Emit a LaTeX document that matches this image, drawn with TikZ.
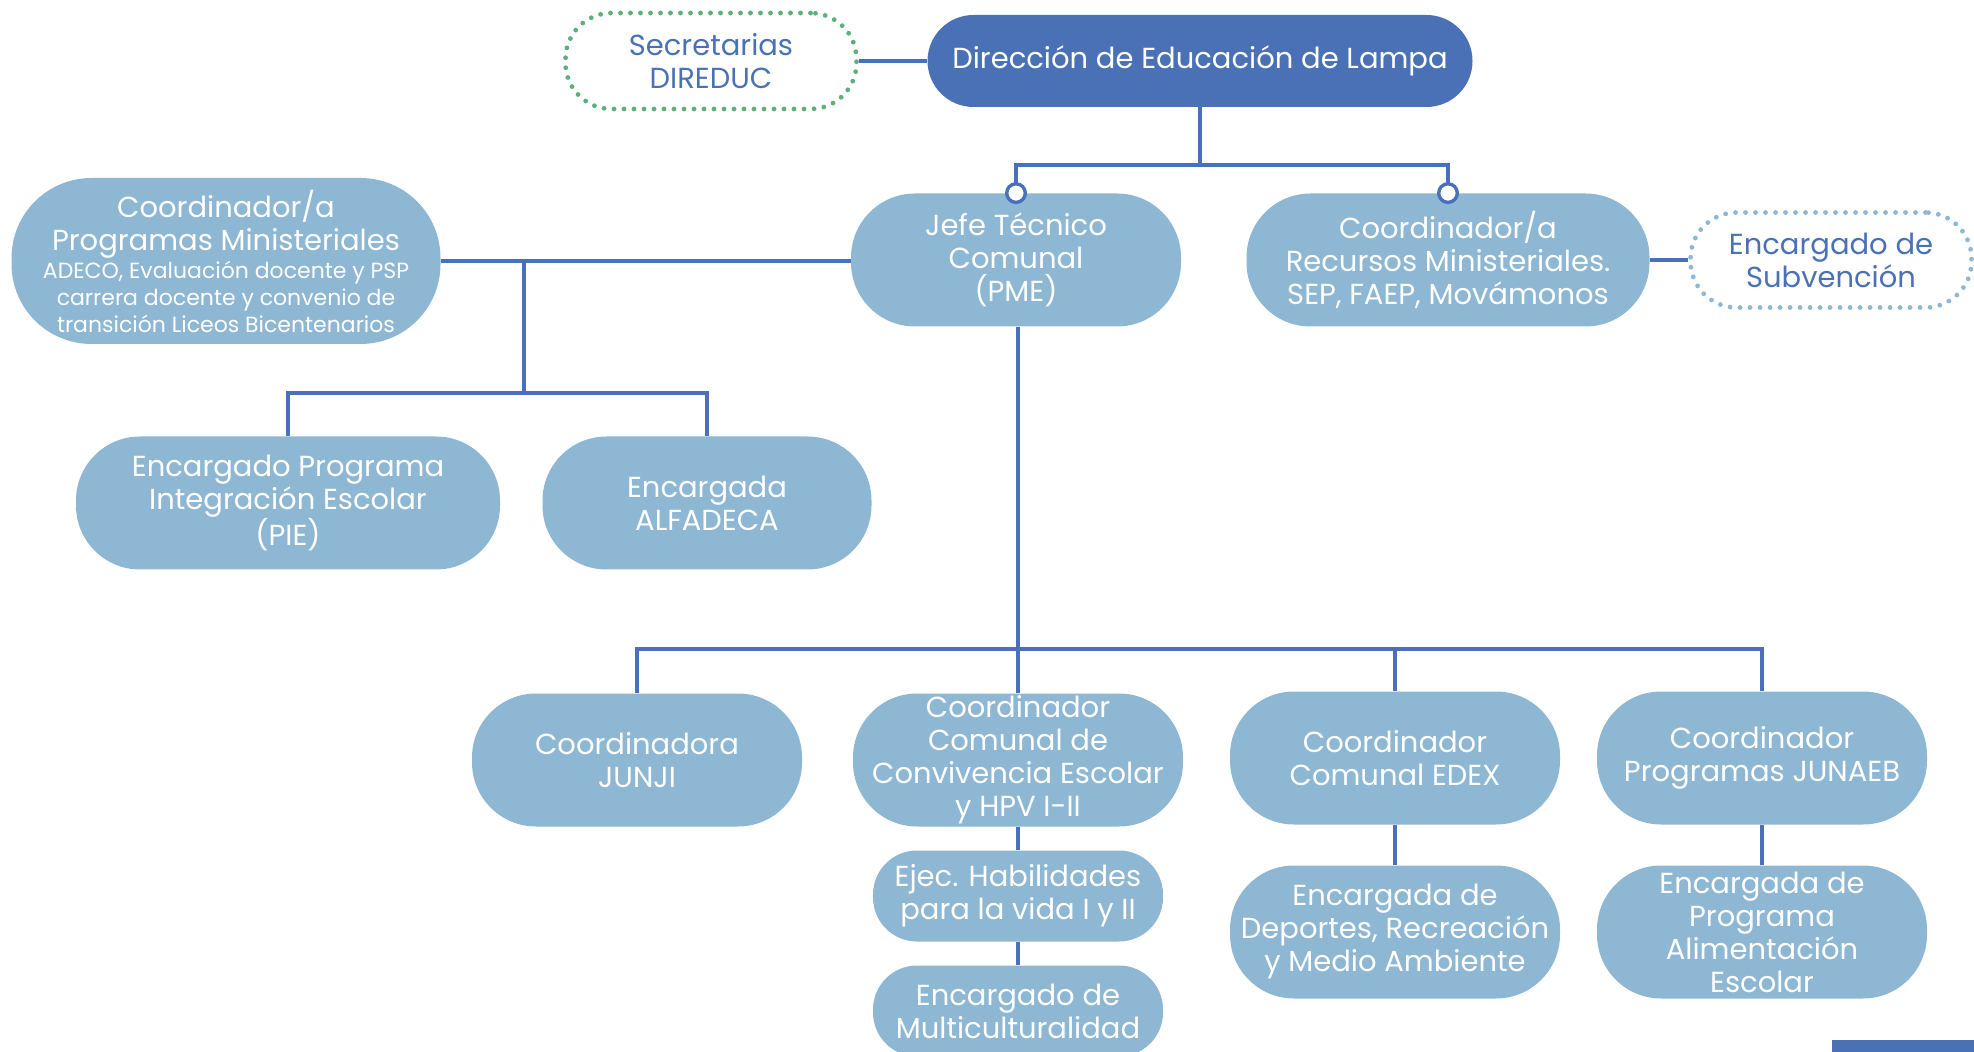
\documentclass[tikz,border=0pt]{standalone}
\usepackage{fontspec}
\setmainfont{Poppins}
\usepackage{tikz}
\usetikzlibrary{arrows.meta}

\definecolor{dirblue}{HTML}{4A71B6}
\definecolor{boxblue}{HTML}{8DB7D3}
\definecolor{lineblue}{HTML}{4A6FBB}
\definecolor{dotgreen}{HTML}{5DAF7C}
\newcommand{\smalltxt}{\fontsize{11}{13.5}\selectfont}

\begin{document}
\begin{tikzpicture}[x=0.5pt,y=-0.5pt,
          box/.style={rectangle,fill=boxblue,text=white,align=center,inner sep=0pt,
            minimum width=165pt,minimum height=66.5pt,rounded corners=32pt,
            font=\fontsize{14.5}{16.5}\selectfont},
          smallbox/.style={box,minimum width=145pt,minimum height=45.5pt,rounded corners=22pt},
          dotbox/.style={box,fill=none,text=dirblue,line width=2.4pt,line cap=round,
            dash pattern=on 0pt off 5pt,minimum height=47.5pt,rounded corners=23pt},
          link/.style={draw=lineblue,line width=1.7pt},
          dotend/.style={-{Circle[fill=white,length=11pt]},shorten >=-5.5pt}]
  \useasboundingbox (0,0) rectangle (1974,1052);

  % top level
  \node[box,fill=dirblue,minimum width=272.5pt,minimum height=46pt,rounded corners=23pt] (NDir) at (1200,61) {Dirección de Educación de Lampa};
  \node[dotbox,draw=dotgreen,minimum width=145.5pt,minimum height=48pt] (NSecr) at (711,61) {Secretarias\\DIREDUC};

  % second level
  \node[box] (NJefe) at (1016,260) {Jefe Técnico\\Comunal\\(PME)};
  \node[box,minimum width=201.5pt] (NRecur) at (1448,260) {Coordinador/a\\Recursos Ministeriales.\\SEP, FAEP, Movámonos};
  \node[dotbox,draw=boxblue,minimum width=140.5pt] (NSubv) at (1831,260) {Encargado de\\Subvención};
  \node[box,minimum width=214.5pt,minimum height=83pt,rounded corners=40pt] (NProg) at (226,261)
    {Coordinador/a\\Programas Ministeriales\\[-2.5pt]
     {\smalltxt ADECO, Evaluación docente y PSP}\\[-3pt]
     {\smalltxt carrera docente y convenio de}\\[-3pt]
     {\smalltxt transición Liceos Bicentenarios}};

  % left branch
  \node[box,minimum width=212pt] (NPie) at (288,503) {Encargado Programa\\Integración Escolar\\(PIE)};
  \node[box,minimum width=164.5pt] (NAlfa) at (707,503) {Encargada\\ALFADECA};

  % bottom row
  \node[box] (NJunji) at (637,760) {Coordinadora\\JUNJI};
  \node[box] (NConv) at (1018,760) {Coordinador\\Comunal de\\Convivencia Escolar\\y HPV I-II};
  \node[box] (NEdex) at (1395,758) {Coordinador\\Comunal EDEX};
  \node[box] (NJunaeb) at (1762,758) {Coordinador\\Programas JUNAEB};
  \node[smallbox] (NEjec) at (1018,896) {Ejec. Habilidades\\para la vida I y II};
  \node[smallbox] (NMulti) at (1018,1011) {Encargado de\\Multiculturalidad};
  \node[box] (NDeport) at (1395,932) {Encargada de\\Deportes, Recreación\\y Medio Ambiente};
  \node[box] (NAlim) at (1762,932) {Encargada de\\Programa\\Alimentación\\Escolar};

  \coordinate (TopBus) at (1200,165);
  \coordinate (LeftBus) at (524,393);
  \coordinate (LowBus) at (1018,649);

  \draw[link] (NSecr) -- (NDir);
  \draw[link] (NDir.south) -- (TopBus);
  \draw[link,dotend] (TopBus) -| (NJefe.north);
  \draw[link,dotend] (TopBus) -| (NRecur.north);
  \draw[link] (NRecur) -- (NSubv);
  \draw[link] (NProg.east) -- (NProg.east -| NJefe.west);
  \draw[link] (NProg.east -| LeftBus) -- (LeftBus);
  \draw[link] (NPie.north) |- (LeftBus) -| (NAlfa.north);
  \draw[link] (NJefe.south -| LowBus) -- (LowBus);
  \draw[link] (NJunji.north) |- (LowBus) -| (NJunaeb.north);
  \draw[link] (LowBus) -- (NConv.north);
  \draw[link] (NEdex.north |- LowBus) -- (NEdex.north);
  \draw[link] (NConv) -- (NEjec);
  \draw[link] (NEjec) -- (NMulti);
  \draw[link] (NEdex) -- (NDeport);
  \draw[link] (NJunaeb) -- (NAlim);

  \fill[dirblue] (1832,1040) rectangle (1974,1052);
\end{tikzpicture}
\end{document}
